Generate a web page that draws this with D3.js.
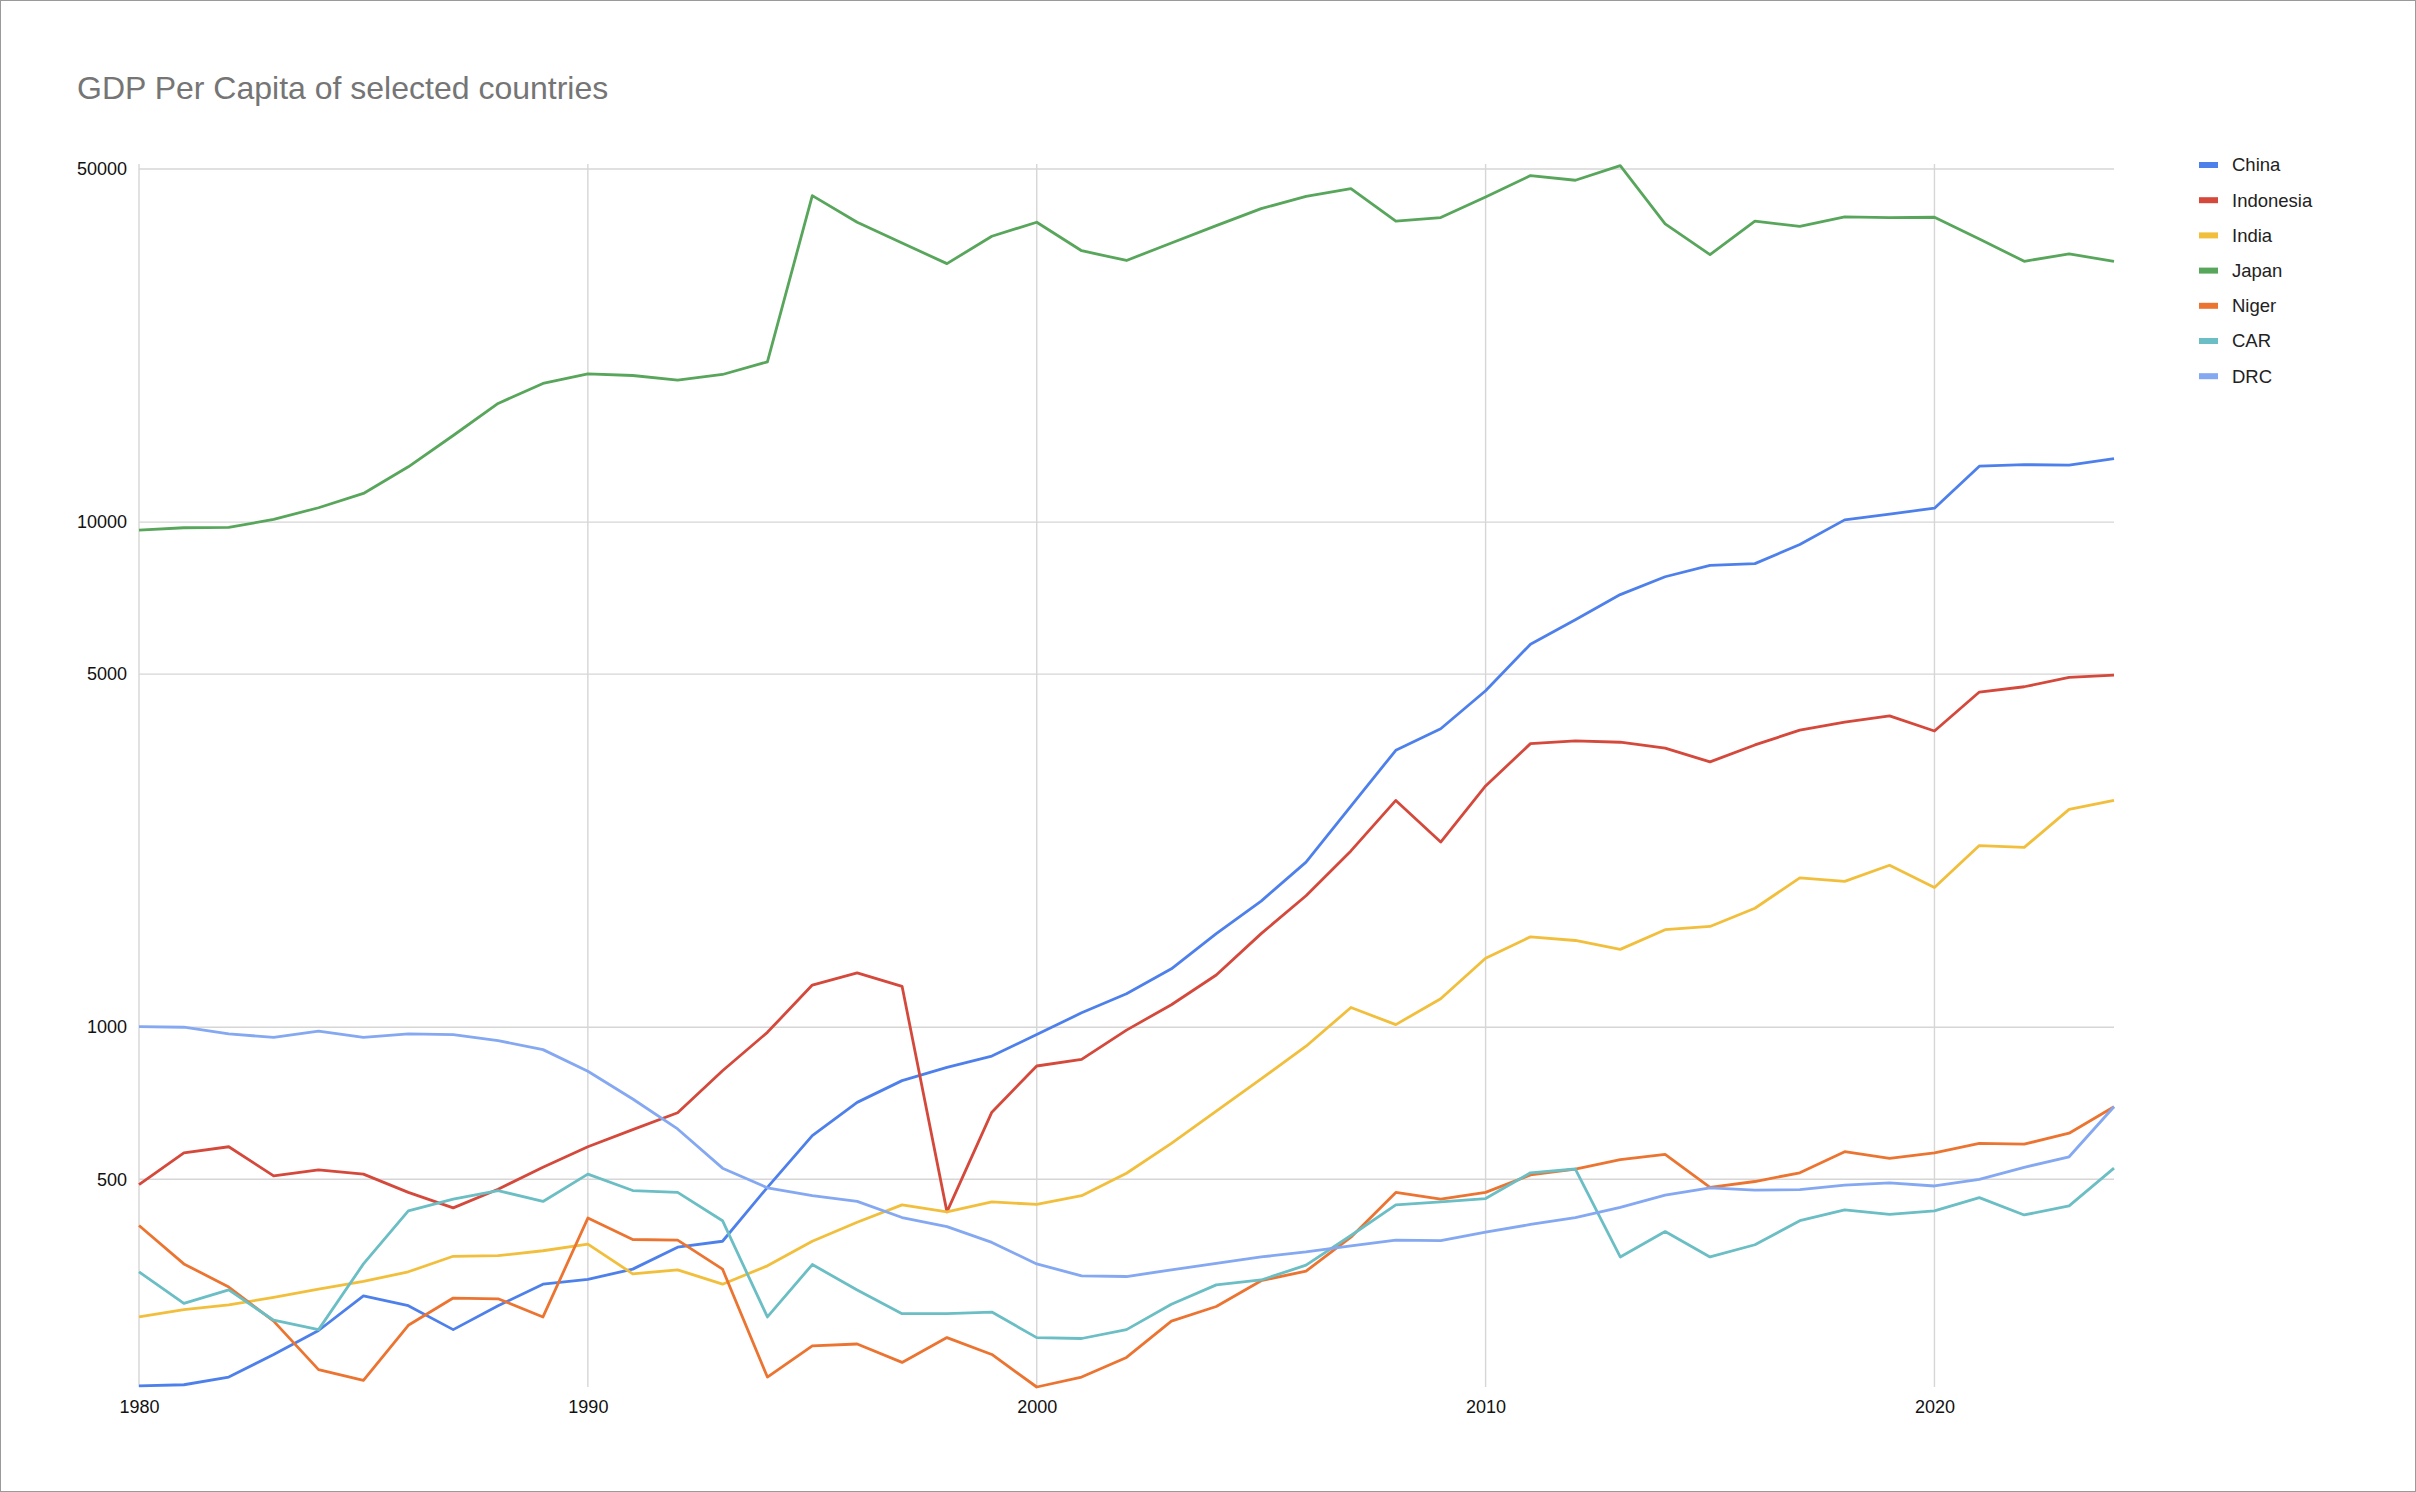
<!doctype html>
<html>
<head>
<meta charset="utf-8">
<script src="https://d3js.org/d3.v7.min.js"></script>
<style>
    body { margin: 0; background: #fff; }
    text { font-family: Arial, "Liberation Sans", sans-serif; }
</style>
</head>
<body>
<svg width="2416" height="1492"></svg>
<script>
    // data (GDP per capita, US$, 1980-2024)
    var years = d3.range(1980, 2025);
    var countries = ["China", "Indonesia", "India", "Japan", "Niger", "CAR", "DRC"];
    var colors = ["#4e80ec", "#d4493b", "#f1bf3c", "#58a65b", "#ec7431", "#6abec4", "#84a8f1"];
    var yTicks = [500, 1000, 5000, 10000, 50000];
    var xTicks = [1980, 1990, 2000, 2010, 2020];

    var china = [195, 196, 203, 225, 251, 294, 281, 252, 281, 310, 317, 332, 367, 377, 482,
        610, 710, 784, 833, 877, 967, 1068, 1165, 1305, 1532, 1777, 2122, 2740, 3534, 3898,
        4636, 5732, 6410, 7186, 7795, 8206, 8275, 9030, 10102, 10373, 10653, 12904, 12990, 12970, 13350];
    var indonesia = [488, 564, 580, 508, 522, 512, 471, 439, 478, 528, 580, 627, 677, 820, 977,
        1212, 1281, 1205, 431, 679, 838, 864, 987, 1108, 1269, 1532, 1821, 2234, 2812, 2326,
        3003, 3643, 3688, 3666, 3569, 3352, 3621, 3874, 4019, 4135, 3859, 4608, 4721, 4928, 4979];
    var india = [267, 276, 282, 292, 303, 314, 328, 352, 353, 361, 372, 325, 331, 310, 337,
        377, 411, 445, 431, 451, 446, 464, 514, 589, 682, 790, 917, 1094, 1012, 1139,
        1369, 1510, 1485, 1426, 1560, 1583, 1720, 1976, 1944, 2092, 1890, 2289, 2270, 2700, 2812];
    var japan = [9642, 9745, 9760, 10122, 10675, 11394, 12866, 14838, 17174, 18810, 19656, 19507, 19097, 19597, 20762,
        44290, 39230, 35690, 32480, 36800, 39230, 34450, 32950, 35690, 38630, 41740, 44150, 45730, 39410, 40070,
        44010, 48520, 47500, 50770, 38930, 33840, 39410, 38510, 40180, 40070, 40130, 36350, 32830, 33950, 32830];
    var niger = [405, 340, 306, 262, 210, 200, 257, 291, 290, 267, 419, 380, 379, 332, 203,
        234, 236, 217, 243, 225, 194, 203, 222, 262, 280, 315, 329, 384, 471, 457,
        471, 510, 524, 547, 560, 482, 495, 515, 567, 550, 564, 589, 587, 617, 696];
    var car = [328, 284, 302, 263, 252, 340, 433, 457, 475, 452, 512, 475, 471, 414, 267,
        339, 302, 271, 271, 273, 243, 242, 252, 283, 309, 316, 338, 387, 445, 451,
        458, 515, 524, 351, 394, 351, 371, 414, 435, 426, 433, 460, 425, 443, 526];
    var drc = [1003, 1000, 970, 955, 982, 955, 970, 967, 941, 903, 818, 721, 629, 526, 481,
        464, 452, 420, 403, 375, 340, 322, 321, 331, 341, 351, 359, 369, 379, 378,
        393, 407, 420, 440, 465, 481, 476, 477, 487, 492, 485, 500, 528, 554, 696];

    var seriesValues = [china, indonesia, india, japan, niger, car, drc];

    var svg = d3.select("svg"),
        plotLeft = 139, plotRight = 2114, plotTop = 169, plotBottom = 1387;

    // frame round the chart
    svg.append("rect")
       .attr("x", 0.5).attr("y", 0.5)
       .attr("width", 2415).attr("height", 1491)
       .attr("fill", "#fff")
       .attr("stroke", "#9a9a9a");

    svg.append("text")
       .attr("x", 77)
       .attr("y", 99)
       .attr("font-size", "32px")
       .attr("fill", "#757575")
       .text("GDP Per Capita of selected countries");

    var xScale = d3.scaleLinear().domain([1980, 2024]).range([plotLeft, plotRight]),
        yScale = d3.scaleLog().domain([194, 50000]).range([plotBottom, plotTop]);

    // grid
    var grid = svg.append("g");
    grid.selectAll(".hgrid")
        .data(yTicks)
        .enter().append("line")
        .attr("x1", plotLeft).attr("x2", plotRight)
        .attr("y1", function(d) { return yScale(d); })
        .attr("y2", function(d) { return yScale(d); })
        .attr("stroke", "#d6d6d6")
        .attr("stroke-width", 1.4);
    grid.selectAll(".vgrid")
        .data(xTicks)
        .enter().append("line")
        .attr("x1", function(d) { return xScale(d); })
        .attr("x2", function(d) { return xScale(d); })
        .attr("y1", plotTop - 5).attr("y2", plotBottom)
        .attr("stroke", "#d6d6d6")
        .attr("stroke-width", 1.4);

    // axes (labels only)
    var xAxis = svg.append("g")
       .attr("transform", "translate(0," + plotBottom + ")")
       .call(d3.axisBottom(xScale).tickValues(xTicks).tickFormat(d3.format("d")).tickSize(0).tickPadding(13));
    var yAxis = svg.append("g")
       .attr("transform", "translate(" + plotLeft + ",0)")
       .call(d3.axisLeft(yScale).tickValues(yTicks).tickFormat(d3.format("d")).tickSize(0).tickPadding(12));
    [xAxis, yAxis].forEach(function(a) {
        a.select(".domain").remove();
        a.selectAll("text")
         .attr("font-size", "18px")
         .attr("font-family", "Arial, 'Liberation Sans', sans-serif")
         .attr("fill", "#111");
    });

    var line = d3.line()
        .x(function(d, i) { return xScale(years[i]); })
        .y(function(d) { return yScale(d); });

    svg.selectAll(".series")
       .data(seriesValues)
       .enter().append("path")
       .attr("class", "series")
       .attr("d", line)
       .attr("fill", "none")
       .attr("stroke", function(d, i) { return colors[i]; })
       .attr("stroke-width", 2.8)
       .attr("stroke-linejoin", "round");

    // legend
    var legend = svg.append("g");
    var item = legend.selectAll(".item")
        .data(countries)
        .enter().append("g")
        .attr("transform", function(d, i) { return "translate(2199," + (165 + i * 35.2) + ")"; });
    item.append("rect")
        .attr("x", 0).attr("y", -3)
        .attr("width", 19).attr("height", 6)
        .attr("fill", function(d, i) { return colors[i]; });
    item.append("text")
        .attr("x", 33)
        .attr("dy", "0.35em")
        .attr("font-size", "18.5px")
        .attr("fill", "#222")
        .text(function(d) { return d; });
</script>
</body>
</html>
